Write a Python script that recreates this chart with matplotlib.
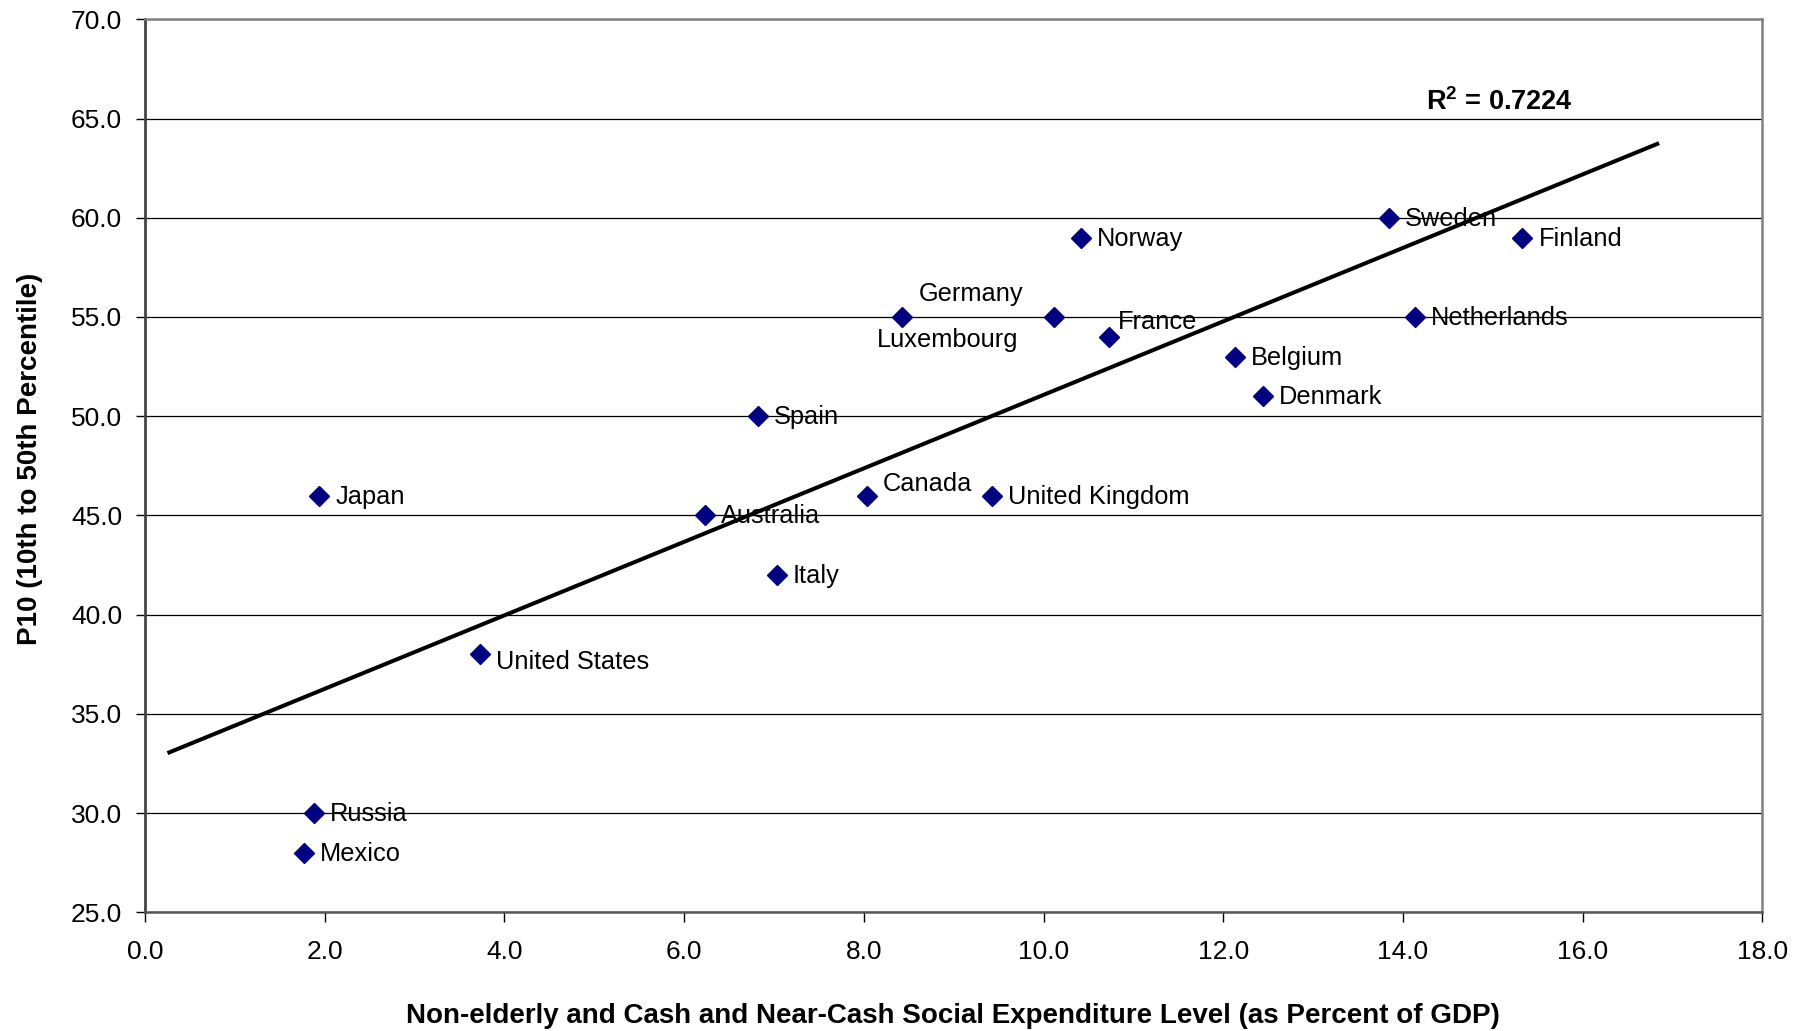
import matplotlib
matplotlib.use("Agg")
import matplotlib.pyplot as plt
from matplotlib.ticker import FormatStrFormatter
import numpy as np

plt.rcParams['font.family'] = ['Liberation Sans', 'DejaVu Sans']
plt.rcParams['mathtext.fontset'] = 'custom'
plt.rcParams['mathtext.rm'] = 'Liberation Sans'
plt.rcParams['mathtext.bf'] = 'Liberation Sans:bold'

countries = ["Japan", "Russia", "Mexico", "United States", "Australia", "Spain",
             "Italy", "Canada", "Germany", "Luxembourg", "United Kingdom", "Norway",
             "France", "Belgium", "Denmark", "Sweden", "Netherlands", "Finland"]
spending = [1.94, 1.88, 1.77, 3.73, 6.23, 6.82, 7.03, 8.03, 8.43, 10.12, 9.43, 10.42,
            10.73, 12.13, 12.44, 13.84, 14.13, 15.33]
p10 = [46, 30, 28, 38, 45, 50, 42, 46, 55, 55, 46, 59, 54, 53, 51, 60, 55, 59]

# label nudges (pixels) where the default "right of marker" was moved
label_offsets = {
    "United States": (16, -7, 'left'),
    "Canada": (16, 13, 'left'),
    "Germany": (16, 24, 'left'),
    "Luxembourg": (-36, -22, 'right'),
    "France": (9, 16, 'left'),
}


def plot_graph():
    fig = plt.figure(figsize=(18.09, 10.31), dpi=100)
    ax = fig.add_axes([0.0802, 0.1151, 0.8940, 0.8662])

    x = np.array(spending)
    y = np.array(p10)

    # linear trendline, forecast 1.5 either side like excel
    slope, icpt = np.polyfit(x, y, 1)
    xs = np.array([x.min() - 1.5, x.max() + 1.5])
    ax.plot(xs, slope * xs + icpt, color='black', lw=2.9, zorder=3)

    ax.plot(x, y, linestyle='none', marker='D', ms=10, color='#000080',
            mec='#000080', zorder=4)

    for name, xi, yi in zip(countries, spending, p10):
        dx, dy, ha = label_offsets.get(name, (16, 0, 'left'))
        ax.annotate(name, (xi, yi), xytext=(dx, dy - 1), textcoords='offset pixels',
                    ha=ha, va='center', fontsize=18.3, zorder=5)

    ax.text(14.26, 65.43, r"$\mathbf{R^2}$ = 0.7224", fontsize=19.5, fontweight='bold',
            ha='left', va='baseline')

    ax.set_xlim(0, 18)
    ax.set_ylim(25, 70)
    ax.set_xticks(np.arange(0, 18.1, 2))
    ax.set_yticks(np.arange(25, 70.1, 5))
    ax.xaxis.set_major_formatter(FormatStrFormatter('%.1f'))
    ax.yaxis.set_major_formatter(FormatStrFormatter('%.1f'))
    ax.tick_params(axis='y', direction='out', length=6.5, width=1, labelsize=19, pad=10)
    ax.tick_params(axis='x', direction='out', length=7, width=1, labelsize=19, pad=13)

    ax.yaxis.grid(True, color='black', lw=0.9)
    ax.set_axisbelow(True)

    for side in ['top', 'right']:
        ax.spines[side].set_color('#808080')
        ax.spines[side].set_linewidth(1.8)
    ax.spines['bottom'].set_color('#555555')
    ax.spines['bottom'].set_linewidth(1.8)
    ax.spines['left'].set_color('#444444')
    ax.spines['left'].set_linewidth(2)

    fig.text(0.527, 0.0145,
             "Non-elderly and Cash and Near-Cash Social Expenditure Level (as Percent of GDP)",
             ha='center', va='center', fontsize=20, fontweight='bold')
    fig.text(0.0166, 0.5545, "P10 (10th to 50th Percentile)", rotation=90,
             ha='center', va='center', fontsize=20, fontweight='bold')

    fig.savefig("out.png", dpi=100)


plot_graph()
